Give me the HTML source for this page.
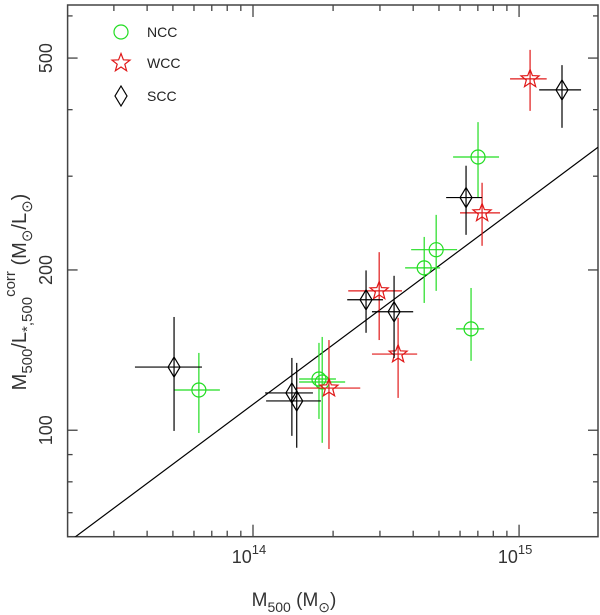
<!DOCTYPE html>
<html><head><meta charset="utf-8"><style>
html,body{margin:0;padding:0;background:#fff;}
svg{display:block;font-family:"Liberation Sans",sans-serif;}
</style></head><body>
<svg id="chart" width="600" height="615" viewBox="0 0 600 615"></svg>
<script>
// Data (mass in units of 1e14 Msun, M/L in Msun/Lsun)
const nccX   = [0.626,1.77,1.82,6.60,4.40,4.88,7.01];
const nccXlo = [0.505,1.49,1.49,5.80,3.73,3.93,5.65];
const nccXhi = [0.751,2.05,2.22,7.39,5.05,5.85,8.41];
const nccY   = [119,124.8,123.2,155,201.8,218.3,326];
const nccYlo = [98.8,105,94.7,135,173.4,182.7,274];
const nccYhi = [139.7,145.9,149.7,185,230.7,253.8,379];

const wccX   = [1.93,2.98,3.51,7.26,11.0];
const wccXlo = [1.45,2.28,2.80,6.0,9.25];
const wccXhi = [2.53,3.63,4.14,8.48,12.7];
const wccY   = [120,182.7,139,256,457];
const wccYlo = [92.2,147.7,115,222,398];
const wccYhi = [147.7,216,162.6,291.6,518];

const sccX   = [0.505,1.40,1.46,2.66,3.39,6.32,14.5];
const sccXlo = [0.360,1.11,1.12,2.26,2.80,5.32,11.9];
const sccXhi = [0.643,1.68,1.80,3.08,4.00,7.26,17.1];
const sccY   = [131.4,117.5,113.5,175.8,166.9,273.5,435.7];
const sccYlo = [99.7,97.6,92.7,152.4,136.7,232.8,369.8];
const sccYhi = [163.2,136.7,133.8,199.6,195,313.9,485];

const fitSlope = 0.3725;
const fitPivotX = 19.8;   // 1e14 units
const fitPivotY = 340;

const xMajorTicks = [1,10];
const xMajorLabels = ["14","15"];
const xMinorTicks = [0.3,0.4,0.5,0.6,0.7,0.8,0.9,2,3,4,5,6,7,8,9];
const yMajorTicks = [100,200,500];
const yMinorTicks = [70,80,90,300,400,600];

const L=67.6,R=598,T=5,B=536.7;
const xMin=0.201,xMax=19.8,yMin=63.1,yMax=629;
const lg=Math.log10;
function sx(v){return L+(lg(v)-lg(xMin))/(lg(xMax)-lg(xMin))*(R-L);}
function sy(v){return B-(lg(v)-lg(yMin))/(lg(yMax)-lg(yMin))*(B-T);}

const NS="http://www.w3.org/2000/svg";
const svg=document.getElementById('chart');
function mk(tag,attrs,parent){const e=document.createElementNS(NS,tag);for(const k in attrs)e.setAttribute(k,attrs[k]);(parent||svg).appendChild(e);return e;}

const defs=mk('defs',{});
const cp=mk('clipPath',{id:'pc'},defs);
mk('rect',{x:L,y:T,width:R-L,height:B-T},cp);

const frame=mk('rect',{x:L,y:T,width:R-L,height:B-T,fill:'none',stroke:'#444','stroke-width':1.5});



const ticks=mk('g',{stroke:'#444','stroke-width':1.3});


xMajorTicks.forEach(v=>{const x=sx(v);mk('line',{x1:x,x2:x,y1:B,y2:B-12},ticks);mk('line',{x1:x,x2:x,y1:T,y2:T+12},ticks);});
xMinorTicks.forEach(v=>{const x=sx(v);mk('line',{x1:x,x2:x,y1:B,y2:B-6},ticks);mk('line',{x1:x,x2:x,y1:T,y2:T+6},ticks);});
yMajorTicks.forEach(v=>{const y=sy(v);mk('line',{x1:L,x2:L+10,y1:y,y2:y},ticks);mk('line',{x1:R,x2:R-10,y1:y,y2:y},ticks);});
yMinorTicks.forEach(v=>{const y=sy(v);mk('line',{x1:L,x2:L+5,y1:y,y2:y},ticks);mk('line',{x1:R,x2:R-5,y1:y,y2:y},ticks);});

xMajorTicks.forEach((v,i)=>{
  const t=mk('text',{x:sx(v)-4,y:563,'font-size':18,fill:'#333','text-anchor':'middle'});
  
  
  t.appendChild(document.createTextNode('10'));
  const s=mk('tspan',{dy:-9,'font-size':13},t);s.textContent=xMajorLabels[i];
});
yMajorTicks.forEach(v=>{
  const y=sy(v);
  const t=mk('text',{x:0,y:0,'font-size':18,fill:'#333','text-anchor':'middle',transform:`translate(52,${y}) rotate(-90)`});
  
  
  t.textContent=String(v);
});

const xt=mk('text',{x:294,y:606,'font-size':19,fill:'#333','text-anchor':'middle'});


xt.innerHTML='M<tspan font-size="14" dy="6">500</tspan><tspan dy="-6"> (M</tspan><tspan font-size="14" dy="6">⊙</tspan><tspan dy="-6">)</tspan>';

const yt=mk('text',{x:0,y:0,'font-size':20,fill:'#333','text-anchor':'middle',transform:'translate(26,292) rotate(-90)'});


yt.innerHTML='M<tspan font-size="15" dy="6">500</tspan><tspan dy="-6">/L</tspan><tspan font-size="15" dy="6">*,500</tspan><tspan font-size="15" dy="-17">corr</tspan><tspan dy="11">  (M</tspan><tspan font-size="15" dy="6">⊙</tspan><tspan dy="-6">/L</tspan><tspan font-size="15" dy="6">⊙</tspan><tspan dy="-6">)</tspan>';

const x1=xMin,x2=xMax;
const fy=x=>fitPivotY*Math.pow(x/fitPivotX,fitSlope);
const fit=mk('line',{x1:sx(x1),y1:sy(fy(x1)),x2:sx(x2),y2:sy(fy(x2)),stroke:'#000','stroke-width':1.2,'clip-path':'url(#pc)'});



function circle(g,x,y,c){mk('circle',{cx:x,cy:y,r:7,fill:'none',stroke:c,'stroke-width':1.2},g);}
function star(g,x,y,c){let p=[];for(let i=0;i<10;i++){const r=i%2?4:9.5;const a=-Math.PI/2+i*Math.PI/5;p.push((x+r*Math.cos(a)).toFixed(1)+','+(y+r*Math.sin(a)).toFixed(1));}mk('polygon',{points:p.join(' '),fill:'none',stroke:c,'stroke-width':1.2},g);}
function diamond(g,x,y,c){mk('polygon',{points:`${x},${y-10} ${x+6},${y} ${x},${y+10} ${x-6},${y}`,fill:'none',stroke:c,'stroke-width':1.2},g);}

function series(name,X,Xlo,Xhi,Y,Ylo,Yhi,col,marker){
  const g=mk('g',{'clip-path':'url(#pc)'});
  
  
  X.forEach((v,i)=>{
    const pg=mk('g',{},g);
    
    
    const x=sx(v),y=sy(Y[i]);
    mk('line',{x1:sx(Xlo[i]),x2:sx(Xhi[i]),y1:y,y2:y,stroke:col,'stroke-width':1.2},pg);
    mk('line',{x1:x,x2:x,y1:sy(Ylo[i]),y2:sy(Yhi[i]),stroke:col,'stroke-width':1.2},pg);
    marker(pg,x,y,col);
  });
}
series('ncc',nccX,nccXlo,nccXhi,nccY,nccYlo,nccYhi,'#22dd22',circle);
series('wcc',wccX,wccXlo,wccXhi,wccY,wccYlo,wccYhi,'#e01818',star);
series('scc',sccX,sccXlo,sccXhi,sccY,sccYlo,sccYhi,'#000',diamond);

const lg2=mk('g',{});


const items=[['NCC','#22dd22',circle,32],['WCC','#e01818',star,63],['SCC','#000',diamond,96]];
items.forEach(it=>{
  const e=mk('g',{},lg2);
  
  
  it[2](e,121,it[3],it[1]);
  const t=mk('text',{x:147,y:it[3]+5,'font-size':14,fill:'#222'},e);
  t.textContent=it[0];
});
</script>
</body></html>
